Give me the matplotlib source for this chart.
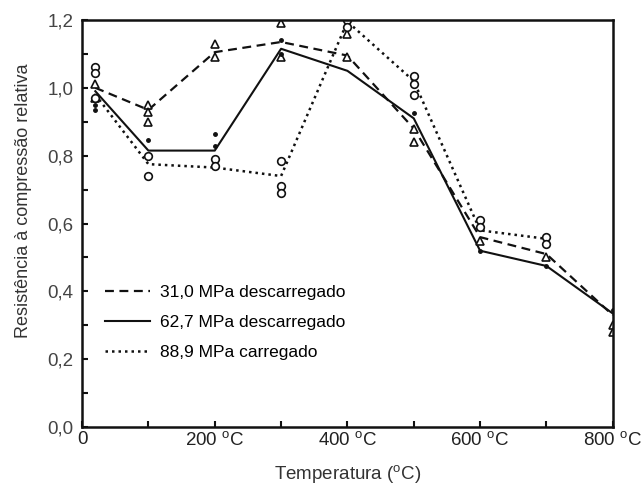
import matplotlib
matplotlib.use("Agg")
import matplotlib.pyplot as plt

plt.rcParams['font.family'] = ['Liberation Sans', 'DejaVu Sans']
plt.rcParams['mathtext.fontset'] = 'custom'
plt.rcParams['mathtext.rm'] = 'Liberation Sans'

# mean curves
temps = [20, 100, 200, 300, 400, 500, 600, 700, 800]
y_31 = [1.00, 0.935, 1.105, 1.135, 1.095, 0.88, 0.56, 0.51, 0.33]
y_62 = [0.99, 0.815, 0.815, 1.115, 1.05, 0.91, 0.52, 0.475, 0.335]
temps_88 = [20, 100, 200, 300, 400, 500, 600, 700]
y_88 = [0.98, 0.775, 0.765, 0.74, 1.195, 1.02, 0.58, 0.555]

# individual test results
tri_x = [20, 20, 100, 100, 100, 200, 200, 300, 300, 400, 400, 500, 500, 600, 700, 800, 800]
tri_y = [1.01, 0.97, 0.95, 0.93, 0.90, 1.13, 1.09, 1.19, 1.09, 1.16, 1.09, 0.88, 0.84, 0.55, 0.50, 0.30, 0.28]
circ_x = [20, 20, 20, 100, 100, 200, 200, 300, 300, 300, 400, 400, 500, 500, 500, 600, 600, 700, 700]
circ_y = [1.06, 1.045, 0.97, 0.80, 0.74, 0.79, 0.77, 0.785, 0.71, 0.69, 1.20, 1.18, 1.035, 1.01, 0.98, 0.61, 0.59, 0.56, 0.54]
dot_x = [20, 20, 100, 200, 200, 300, 300, 500, 600, 700, 800]
dot_y = [0.95, 0.935, 0.845, 0.865, 0.83, 1.14, 1.10, 0.925, 0.52, 0.475, 0.345]

xticks = [0, 200, 400, 600, 800]
xlabels = ['0', '200 $^{\\mathrm{o}}$C', '400 $^{\\mathrm{o}}$C', '600 $^{\\mathrm{o}}$C', '800 $^{\\mathrm{o}}$C']
yticks = [0.0, 0.2, 0.4, 0.6, 0.8, 1.0, 1.2]
ylabels = ['0,0', '0,2', '0,4', '0,6', '0,8', '1,0', '1,2']

fig = plt.figure(figsize=(6.41, 4.86), dpi=100)
ax = fig.add_axes([0.128, 0.121, 0.828, 0.838])

ax.plot(temps, y_31, color='#111111', lw=1.6, linestyle=(0, (4, 2.5)), label='31,0 MPa descarregado')
ax.plot(temps, y_62, color='#111111', lw=1.5, linestyle='-', label='62,7 MPa descarregado')
ax.plot(temps_88, y_88, color='#111111', lw=1.8, linestyle=(0, (1, 1.6)), label='88,9 MPa carregado')

ax.plot(tri_x, tri_y, linestyle='none', marker='^', ms=6, mfc='white', mec='#111111', mew=1.2)
ax.plot(circ_x, circ_y, linestyle='none', marker='o', ms=5.5, mfc='white', mec='#111111', mew=1.2)
ax.plot(dot_x, dot_y, linestyle='none', marker='o', ms=2.5, color='#111111')

ax.set_xlim(0, 800)
ax.set_ylim(0, 1.2)
ax.set_xticks(xticks)
ax.set_xticklabels(xlabels)
ax.set_xticks([100, 300, 500, 700], minor=True)
ax.set_yticks(yticks)
ax.set_yticklabels(ylabels)
ax.set_yticks([0.1, 0.3, 0.5, 0.7, 0.9, 1.1], minor=True)
ax.tick_params(which='both', direction='in', length=4, width=1.5, labelsize=13.5, colors='#111111')
ax.tick_params(axis='x', pad=3, labelcolor='#222222')
ax.tick_params(axis='y', pad=6, labelcolor='#444444')
for s in ax.spines.values():
    s.set_linewidth(1.8)
    s.set_color('#111111')

ax.set_xlabel('Temperatura ($^{\\mathrm{o}}$C)', fontsize=13.5, color='#333333')
ax.xaxis.set_label_coords(0.5, -0.088)
ax.set_ylabel('Resistência à compressão relativa', fontsize=13, color='#333333')
ax.yaxis.set_label_coords(-0.094, 0.555)

leg = ax.legend(loc='upper left', bbox_to_anchor=(0.03, 0.366), frameon=False, fontsize=12.5,
                handlelength=2.6, labelspacing=0.85, handletextpad=0.55, borderaxespad=0)

fig.savefig('out.png', dpi=100)
